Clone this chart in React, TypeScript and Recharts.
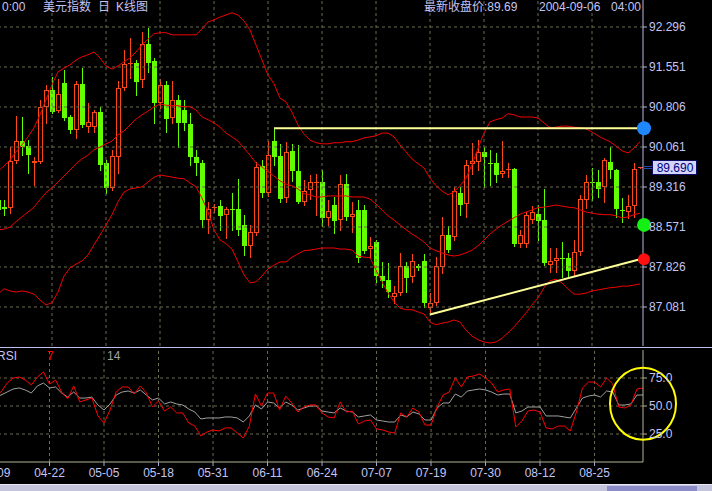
import { ComposedChart, Bar, Line, XAxis, YAxis, ReferenceLine, ReferenceDot } from "recharts"

// daily bars of the US dollar index, 2004-04-09 .. 2004-09-06
const dates = [
  "04-09", "04-12", "04-13", "04-14", "04-15", "04-16", "04-19", "04-20", "04-21", "04-22",
  "04-23", "04-26", "04-27", "04-28", "04-29", "04-30", "05-03", "05-04", "05-05", "05-06",
  "05-07", "05-10", "05-11", "05-12", "05-13", "05-14", "05-17", "05-18", "05-19", "05-20",
  "05-21", "05-24", "05-25", "05-26", "05-27", "05-28", "05-31", "06-01", "06-02", "06-03",
  "06-04", "06-07", "06-08", "06-09", "06-10", "06-11", "06-14", "06-15", "06-16", "06-17",
  "06-18", "06-21", "06-22", "06-23", "06-24", "06-25", "06-28", "06-29", "06-30", "07-01",
  "07-02", "07-05", "07-06", "07-07", "07-08", "07-09", "07-12", "07-13", "07-14", "07-15",
  "07-16", "07-18", "07-19", "07-20", "07-21", "07-22", "07-23", "07-26", "07-27", "07-28",
  "07-29", "07-30", "08-02", "08-03", "08-04", "08-05", "08-06", "08-09", "08-10", "08-11",
  "08-12", "08-13", "08-16", "08-17", "08-18", "08-19", "08-20", "08-23", "08-24", "08-25",
  "08-26", "08-27", "08-30", "08-31", "09-01", "09-02", "09-03", "09-06",
]

const opens = [
  89.08, 88.94, 88.93, 89.80, 90.17, 90.08, 89.76, 89.78, 90.81, 91.12,
  90.73, 91.25, 90.62, 90.38, 91.24, 90.43, 90.43, 90.71, 89.76, 89.30,
  89.88, 91.16, 91.61, 91.63, 91.31, 91.98, 91.66, 90.88, 91.22, 90.60,
  90.94, 90.75, 90.49, 89.88, 89.76, 88.70, 88.93, 88.96, 88.80, 88.91,
  88.91, 88.61, 88.22, 88.46, 89.71, 89.21, 90.17, 89.89, 89.11, 89.99,
  89.62, 89.04, 89.26, 89.39, 89.41, 88.74, 88.98, 88.70, 89.37, 88.76,
  88.89, 88.89, 88.16, 88.29, 87.66, 87.59, 87.27, 87.34, 87.85, 87.64,
  87.85, 87.94, 87.06, 87.16, 87.83, 88.42, 88.39, 89.21, 89.00, 89.75,
  89.78, 89.97, 89.76, 89.76, 89.56, 89.63, 89.65, 88.26, 88.26, 88.70,
  88.81, 88.70, 87.86, 87.94, 88.00, 88.00, 87.75, 88.11, 89.08, 89.41,
  89.41, 89.32, 89.78, 89.63, 88.89, 88.85, 88.96, 89.67,
]

const highs = [
  89.17, 89.08, 90.06, 90.64, 90.62, 90.19, 89.88, 90.94, 91.22, 91.37,
  91.33, 91.50, 90.66, 91.29, 91.53, 90.88, 90.75, 90.81, 89.82, 90.01,
  91.29, 91.87, 92.09, 91.68, 92.20, 92.28, 91.72, 91.33, 91.29, 91.29,
  91.03, 90.94, 90.70, 90.01, 89.82, 89.04, 89.00, 89.08, 88.94, 89.21,
  89.47, 88.80, 88.61, 89.78, 89.82, 90.17, 90.40, 90.12, 90.16, 90.12,
  90.10, 89.45, 89.54, 89.56, 89.63, 89.08, 89.13, 89.54, 89.56, 89.04,
  89.08, 88.98, 88.39, 88.33, 87.92, 87.90, 87.47, 88.09, 87.92, 88.07,
  87.88, 88.07, 87.34, 88.01, 88.76, 88.59, 89.32, 89.32, 89.82, 90.14,
  90.19, 90.06, 90.01, 89.95, 90.17, 89.76, 89.67, 88.52, 88.85, 88.96,
  88.98, 89.28, 88.18, 88.18, 88.29, 88.09, 88.33, 89.17, 89.54, 89.67,
  89.63, 89.86, 90.06, 89.65, 89.11, 89.17, 89.76, 89.69,
]

const lows = [
  88.80, 88.80, 88.83, 89.76, 89.91, 89.58, 89.35, 89.76, 90.51, 90.70,
  90.71, 90.57, 90.32, 90.23, 90.43, 90.34, 90.34, 89.63, 89.21, 89.26,
  89.58, 91.12, 91.35, 91.03, 91.18, 91.46, 90.51, 90.79, 90.34, 90.51,
  90.06, 90.38, 89.73, 89.54, 88.57, 88.46, 88.85, 88.52, 88.37, 88.52,
  88.42, 88.05, 88.01, 88.42, 89.13, 89.15, 89.73, 89.04, 89.04, 89.43,
  89.02, 88.98, 89.09, 88.80, 88.59, 88.61, 88.46, 88.52, 88.70, 88.48,
  87.92, 88.09, 88.01, 87.55, 87.45, 87.27, 87.16, 87.31, 87.36, 87.55,
  87.77, 87.08, 86.99, 87.12, 87.72, 88.11, 88.33, 88.80, 88.76, 89.56,
  89.63, 89.32, 89.35, 89.41, 89.50, 89.50, 88.22, 88.20, 88.20, 88.65,
  88.33, 87.86, 87.73, 87.73, 87.64, 87.66, 87.66, 88.05, 88.93, 89.08,
  89.13, 89.04, 89.48, 88.76, 88.67, 88.74, 88.76, 89.67,
]

const closes = [
  88.89, 88.91, 89.80, 90.17, 90.06, 89.91, 89.80, 90.81, 91.12, 90.71,
  91.05, 90.60, 90.38, 91.24, 90.47, 90.53, 90.71, 89.73, 89.30, 89.89,
  91.16, 91.61, 91.63, 91.27, 91.98, 91.63, 90.88, 91.22, 90.58, 90.94,
  90.51, 90.51, 89.88, 89.76, 88.70, 88.91, 88.94, 88.78, 88.91, 88.89,
  88.52, 88.22, 88.48, 89.69, 89.21, 89.91, 89.88, 89.09, 89.97, 89.62,
  89.04, 89.24, 89.41, 89.41, 88.74, 88.87, 88.68, 89.37, 88.76, 88.81,
  88.00, 88.13, 88.22, 87.66, 87.57, 87.36, 87.34, 87.85, 87.62, 87.94,
  87.81, 87.16, 87.16, 87.85, 88.42, 88.14, 89.24, 88.98, 89.73, 89.80,
  89.97, 89.88, 89.75, 89.54, 89.62, 89.65, 88.26, 88.42, 88.80, 88.85,
  88.68, 87.90, 87.94, 88.00, 87.98, 87.75, 88.11, 89.09, 89.41, 89.39,
  89.28, 89.82, 89.63, 88.91, 88.87, 88.96, 89.65, 89.69,
]

// Bollinger bands (20, 2)
const bollUpper = [
  89.60, 89.71, 89.82, 89.97, 90.10, 90.25, 90.42, 90.66, 90.94, 91.22,
  91.46, 91.53, 91.59, 91.68, 91.74, 91.78, 91.83, 91.72, 91.57, 91.51,
  91.57, 91.65, 91.72, 91.83, 91.96, 92.07, 92.17, 92.19, 92.19, 92.15,
  92.15, 92.15, 92.15, 92.15, 92.26, 92.39, 92.43, 92.48, 92.52, 92.56,
  92.52, 92.41, 92.24, 91.96, 91.68, 91.40, 91.24, 90.97, 90.90, 90.71,
  90.47, 90.30, 90.19, 90.14, 90.12, 90.12, 90.14, 90.14, 90.16, 90.16,
  90.19, 90.23, 90.25, 90.27, 90.32, 90.32, 90.25, 90.10, 89.97, 89.84,
  89.75, 89.67, 89.48, 89.34, 89.24, 89.17, 89.22, 89.34, 89.48, 89.73,
  90.04, 90.32, 90.53, 90.57, 90.60, 90.68, 90.66, 90.62, 90.62, 90.62,
  90.60, 90.51, 90.42, 90.43, 90.45, 90.45, 90.43, 90.42, 90.40, 90.34,
  90.27, 90.21, 90.16, 90.08, 89.99, 89.95, 90.04, 90.16,
]

const bollMid = [
  88.52, 88.53, 88.57, 88.67, 88.76, 88.85, 88.94, 89.08, 89.21, 89.30,
  89.41, 89.52, 89.63, 89.75, 89.84, 89.91, 90.01, 90.06, 90.12, 90.17,
  90.29, 90.36, 90.47, 90.58, 90.66, 90.73, 90.81, 90.86, 90.84, 90.83,
  90.83, 90.81, 90.81, 90.75, 90.62, 90.57, 90.51, 90.43, 90.32, 90.25,
  90.17, 90.04, 89.91, 89.76, 89.69, 89.60, 89.52, 89.43, 89.37, 89.34,
  89.28, 89.19, 89.17, 89.13, 89.13, 89.15, 89.15, 89.15, 89.15, 89.13,
  89.13, 89.13, 89.09, 89.00, 88.89, 88.78, 88.70, 88.61, 88.52, 88.44,
  88.37, 88.29, 88.18, 88.13, 88.09, 88.05, 88.03, 88.05, 88.09, 88.14,
  88.22, 88.33, 88.44, 88.53, 88.61, 88.68, 88.74, 88.81, 88.85, 88.89,
  88.93, 88.94, 88.96, 88.98, 88.96, 88.94, 88.93, 88.89, 88.85, 88.83,
  88.81, 88.80, 88.80, 88.78, 88.74, 88.76, 88.80, 88.83,
]

const bollLower = [
  87.32, 87.42, 87.38, 87.36, 87.38, 87.36, 87.32, 87.21, 87.12, 87.16,
  87.36, 87.66, 87.81, 87.88, 87.94, 88.05, 88.24, 88.42, 88.61, 88.80,
  89.04, 89.22, 89.28, 89.30, 89.32, 89.41, 89.50, 89.54, 89.52, 89.50,
  89.48, 89.47, 89.39, 89.32, 89.11, 88.85, 88.52, 88.33, 88.26, 88.16,
  87.92, 87.68, 87.53, 87.55, 87.66, 87.79, 87.86, 87.92, 87.92, 88.01,
  88.07, 88.13, 88.14, 88.16, 88.18, 88.18, 88.18, 88.16, 88.16, 88.14,
  88.03, 88.01, 88.00, 87.77, 87.55, 87.34, 87.18, 87.06, 87.03, 87.03,
  86.99, 86.95, 86.80, 86.75, 86.78, 86.80, 86.84, 86.80, 86.65, 86.54,
  86.47, 86.43, 86.41, 86.43, 86.50, 86.60, 86.71, 86.84, 86.97, 87.12,
  87.25, 87.44, 87.57, 87.60, 87.53, 87.42, 87.32, 87.32, 87.34, 87.38,
  87.40, 87.42, 87.44, 87.45, 87.47, 87.47, 87.49, 87.51,
]

const rsi7 = [
  59.8, 62.5, 70.5, 75.0, 75.9, 73.2, 68.8, 75.9, 80.4, 69.6,
  73.2, 62.5, 56.3, 67.9, 53.6, 55.4, 57.1, 41.1, 34.8, 46.4,
  62.5, 67.0, 67.0, 60.7, 67.9, 61.6, 49.1, 54.5, 45.5, 49.1,
  43.8, 43.8, 34.8, 32.1, 23.2, 26.8, 28.6, 27.7, 30.4, 30.4,
  25.9, 21.4, 32.1, 60.7, 50.0, 61.6, 61.6, 46.4, 58.9, 52.7,
  44.6, 49.1, 50.9, 50.9, 43.8, 40.2, 39.3, 53.6, 44.6, 45.5,
  33.9, 36.6, 37.5, 29.5, 28.6, 26.8, 25.9, 43.8, 40.2, 48.2,
  44.6, 33.0, 33.0, 49.1, 59.8, 62.5, 75.0, 67.0, 75.9, 76.8,
  78.6, 75.0, 70.5, 62.5, 64.3, 65.2, 31.3, 36.6, 45.5, 46.4,
  44.6, 30.4, 29.5, 32.1, 32.1, 27.7, 44.6, 66.1, 71.4, 71.4,
  67.0, 75.0, 69.6, 49.1, 48.2, 50.9, 65.2, 66.1,
]

const rsi14 = [
  58.0, 59.8, 62.5, 65.2, 66.1, 64.3, 61.6, 67.9, 70.5, 66.1,
  67.0, 61.6, 58.0, 62.5, 57.1, 57.1, 58.0, 50.9, 46.4, 51.8,
  59.8, 62.5, 63.4, 61.6, 64.3, 59.8, 55.4, 57.1, 51.8, 53.6,
  51.8, 50.9, 47.3, 44.6, 38.4, 39.3, 39.3, 39.3, 40.2, 40.2,
  39.3, 35.7, 41.1, 50.9, 47.3, 53.6, 52.7, 48.2, 53.6, 50.9,
  46.4, 48.2, 50.0, 50.0, 45.5, 44.6, 43.8, 48.2, 45.5, 44.6,
  40.2, 41.1, 42.0, 37.5, 36.6, 35.7, 35.7, 42.0, 40.2, 44.6,
  42.9, 37.5, 37.5, 48.2, 52.7, 52.7, 60.7, 58.0, 63.4, 64.3,
  65.2, 64.3, 62.5, 59.8, 60.7, 60.7, 43.8, 45.5, 49.1, 49.1,
  49.1, 41.1, 41.1, 41.1, 40.2, 39.3, 48.2, 57.1, 58.9, 59.8,
  58.0, 63.4, 62.5, 50.9, 50.9, 51.8, 59.8, 59.8,
]

const priceTicks = [87.081, 87.826, 88.571, 89.316, 90.061, 90.806, 91.551, 92.296]
const rsiTicks = [25, 50, 75]
const dateTicks = ["04-09", "04-22", "05-05", "05-18", "05-31", "06-11", "06-24", "07-07", "07-19", "07-30", "08-12", "08-25"]

// hand drawn study lines
const resistanceStart = "06-14"
const resistanceLevel = 90.41
const supportStart = "07-19"
const supportFrom = 86.94
const supportTo = 87.97
const bandMarker = 88.61
const rsiHighlight = 52

const quoteYear = "2004"
const quoteTime = "04:00"

const UP = "#ff4818"
const DOWN = "#62ff00"
const BAND = "#f00000"
const GRID = "#6c6c50"
const TEXT = "#c4c4f4"
const FONT = '"Liberation Sans", Arial, "Noto Sans CJK SC", sans-serif'

const rows = dates.map((date, i) => ({
  date,
  open: opens[i],
  high: highs[i],
  low: lows[i],
  close: closes[i],
  range: [lows[i], highs[i]],
  upper: bollUpper[i],
  mid: bollMid[i],
  lower: bollLower[i],
  rsi7: rsi7[i],
  rsi14: rsi14[i],
}))

const lastDate = dates[dates.length - 1]
const lastClose = closes[closes.length - 1]

function Candle(props: any) {
  const { x, y, width, height, payload } = props
  if (x == null || y == null || !payload) return null
  const { open, close, high, low } = payload
  const top = Math.min(y, y + height)
  const perUnit = high > low ? Math.abs(height) / (high - low) : 0
  const at = (v: number) => Math.round(top + (high - v) * perUnit)
  const mid = Math.floor(x + width / 2)
  const wx = mid + 0.5
  const yHigh = at(high)
  const yLow = at(low)
  const bodyTop = at(Math.max(open, close))
  const bodyBottom = at(Math.min(open, close))
  const rising = close >= open
  const color = rising ? UP : DOWN

  if (bodyBottom - bodyTop < 2) {
    return (
      <g>
        <line x1={wx} x2={wx} y1={yHigh} y2={yLow + 1} stroke={color} />
        <line x1={mid - 2} x2={mid + 3} y1={bodyTop + 0.5} y2={bodyTop + 0.5} stroke={color} />
      </g>
    )
  }
  if (rising) {
    // hollow body for up days
    return (
      <g>
        <line x1={wx} x2={wx} y1={yHigh} y2={bodyTop} stroke={color} />
        <line x1={wx} x2={wx} y1={bodyBottom} y2={yLow + 1} stroke={color} />
        <rect x={mid - 1.5} y={bodyTop + 0.5} width={4} height={bodyBottom - bodyTop - 1} fill="none" stroke={color} />
      </g>
    )
  }
  return (
    <g>
      <line x1={wx} x2={wx} y1={yHigh} y2={yLow + 1} stroke={color} />
      <rect x={mid - 2} y={bodyTop} width={5} height={bodyBottom - bodyTop} fill={color} />
    </g>
  )
}

const edgeDot = (color: string, r: number) => (p: any) => <circle cx={p.cx + 4} cy={p.cy} r={r} fill={color} />

function PriceTag(p: any) {
  const { cx, cy } = p
  const left = Math.round(cx) + 12
  const yc = Math.round(cy)
  return (
    <g>
      <line x1={cx + 3} x2={left} y1={yc - 0.5} y2={yc - 0.5} stroke="#2848b0" />
      <line x1={cx + 3} x2={left} y1={yc + 1.5} y2={yc + 1.5} stroke="#2848b0" />
      <rect x={left + 0.5} y={yc - 6.5} width={44} height={14} fill="#d4d4f8" stroke="#0c0c60" />
      <text x={left + 23} y={yc + 5} textAnchor="middle" fill="#000080" fontSize={12} fontFamily={FONT}>
        {lastClose.toFixed(3)}
      </text>
    </g>
  )
}

const RsiRing = (p: any) => (
  <ellipse cx={p.cx} cy={p.cy} rx={33} ry={36} fill="none" stroke="#ffff00" strokeWidth={2} />
)

function Label({ left, top, color = TEXT, children }: any) {
  return (
    <span style={{ position: "absolute", left, top, color, fontSize: 12, lineHeight: "14px", whiteSpace: "pre", fontFamily: FONT }}>
      {children}
    </span>
  )
}

export default function App() {
  return (
    <div style={{ position: "fixed", left: 0, top: 0, width: 712, height: 491, background: "#000", overflow: "hidden" }}>
      <div style={{ position: "absolute", left: -5, top: 0 }}>
        <ComposedChart width={717} height={346} data={rows} margin={{ top: 0, right: 0, bottom: 0, left: 0 }}>
          <XAxis dataKey="date" hide />
          <YAxis
            orientation="right"
            width={69}
            domain={[86.3545, 92.7989]}
            allowDataOverflow
            ticks={priceTicks}
            interval={0}
            tickFormatter={(v: number) => v.toFixed(3)}
            tick={{ fill: TEXT, fontSize: 12, fontFamily: FONT }}
            tickSize={4}
            tickLine={{ stroke: "#b8b8e0" }}
            axisLine={{ stroke: "#b8b8e0" }}
          />
          {priceTicks.map((t) => (
            <ReferenceLine key={t} y={t} stroke={GRID} strokeDasharray="3 3" />
          ))}
          {dateTicks.slice(1).map((d) => (
            <ReferenceLine key={d} x={d} stroke={GRID} strokeDasharray="3 3" />
          ))}
          <Line dataKey="upper" stroke={BAND} strokeWidth={1} dot={false} activeDot={false} isAnimationActive={false} />
          <Line dataKey="mid" stroke={BAND} strokeWidth={1} dot={false} activeDot={false} isAnimationActive={false} />
          <Line dataKey="lower" stroke={BAND} strokeWidth={1} dot={false} activeDot={false} isAnimationActive={false} />
          <Bar dataKey="range" barSize={5} shape={(p: any) => <Candle {...p} />} isAnimationActive={false} />
          <ReferenceLine
            segment={[{ x: resistanceStart, y: resistanceLevel }, { x: lastDate, y: resistanceLevel }]}
            stroke="#ffff99"
            strokeWidth={2}
            ifOverflow="visible"
          />
          <ReferenceLine
            segment={[{ x: supportStart, y: supportFrom }, { x: lastDate, y: supportTo }]}
            stroke="#ffff99"
            strokeWidth={2}
            ifOverflow="visible"
          />
          <ReferenceDot x={lastDate} y={resistanceLevel} ifOverflow="visible" shape={edgeDot("#2088ff", 7)} />
          <ReferenceDot x={lastDate} y={bandMarker} ifOverflow="visible" shape={edgeDot("#14f014", 7)} />
          <ReferenceDot x={lastDate} y={supportTo} ifOverflow="visible" shape={edgeDot("#ff1010", 6)} />
          <ReferenceDot x={lastDate} y={lastClose} ifOverflow="visible" shape={PriceTag} />
        </ComposedChart>
      </div>

      <div style={{ position: "absolute", left: 0, top: 347, width: 712, height: 1, background: "#c0c0f0" }} />

      <div style={{ position: "absolute", left: -5, top: 347 }}>
        <ComposedChart width={717} height={145} data={rows} margin={{ top: 3, right: 0, bottom: 0, left: 0 }}>
          <XAxis
            dataKey="date"
            ticks={dateTicks}
            interval={0}
            height={30}
            tickSize={4}
            tick={{ fill: TEXT, fontSize: 12, fontFamily: FONT }}
            tickLine={{ stroke: "#a8a8d8" }}
            axisLine={{ stroke: "#b4b496" }}
          />
          <YAxis
            orientation="right"
            width={69}
            domain={[0, 100]}
            ticks={rsiTicks}
            interval={0}
            tickFormatter={(v: number) => v.toFixed(1)}
            tick={{ fill: TEXT, fontSize: 12, fontFamily: FONT }}
            tickSize={4}
            tickLine={{ stroke: "#b4b496" }}
            axisLine={{ stroke: "#b4b496" }}
          />
          {rsiTicks.map((t) => (
            <ReferenceLine key={t} y={t} stroke={GRID} strokeDasharray="3 3" />
          ))}
          {dateTicks.slice(1).map((d) => (
            <ReferenceLine key={d} x={d} stroke={GRID} strokeDasharray="3 3" />
          ))}
          <Line dataKey="rsi14" stroke="#a0a0a0" strokeWidth={1} dot={false} activeDot={false} isAnimationActive={false} />
          <Line dataKey="rsi7" stroke="#ff0000" strokeWidth={1} dot={false} activeDot={false} isAnimationActive={false} />
          <ReferenceDot x={lastDate} y={rsiHighlight} ifOverflow="visible" shape={RsiRing} />
        </ComposedChart>
      </div>

      <Label left={2} top={0}>0:00</Label>
      <Label left={43} top={0}>美元指数</Label>
      <Label left={98} top={0}>日</Label>
      <Label left={116} top={0}>K线图</Label>
      <Label left={424} top={0}>{`最新收盘价:${lastClose.toFixed(2)}`}</Label>
      <Label left={539} top={0}>{`${quoteYear}-${lastDate}`}</Label>
      <Label left={611} top={0}>{quoteTime}</Label>

      <Label left={-3} top={349}>RSI</Label>
      <Label left={47} top={349} color="#ff0000">7</Label>
      <Label left={107} top={349} color="#a0a0a0">14</Label>

      <div style={{ position: "absolute", left: 0, top: 484, width: 712, height: 7, background: "#c4c4dc", borderTop: "1px solid #e8e8f8" }} />
      <div style={{ position: "absolute", left: 607, top: 486, width: 90, height: 5, background: "#8c8cc8" }} />
    </div>
  )
}
